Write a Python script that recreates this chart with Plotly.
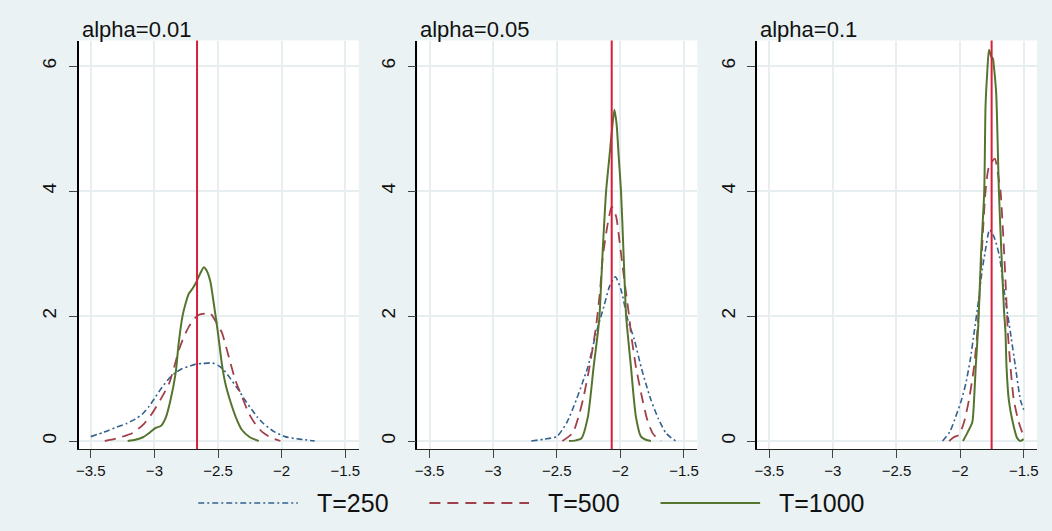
import plotly.graph_objects as go

W, H = 1052, 531

# ---------------- data ----------------
panel_titles = ["alpha=0.01", "alpha=0.05", "alpha=0.1"]
series_names = ["T=250", "T=500", "T=1000"]
crit_values = [-2.665, -2.068, -1.752]
x_ticks = [-3.5, -3, -2.5, -2, -1.5]
x_tick_text = ["\u22123.5", "\u22123", "\u22122.5", "\u22122", "\u22121.5"]
y_ticks = [0, 2, 4, 6]

# panel 1 (alpha=0.01)
p1_t250_x = [-3.50, -3.40, -3.30, -3.22, -3.15, -3.09, -3.04, -2.99, -2.94, -2.885, -2.83, -2.78, -2.72,
             -2.677, -2.62, -2.547, -2.50, -2.456, -2.40, -2.34, -2.29, -2.234, -2.19, -2.143, -2.06,
             -1.974, -1.90, -1.82, -1.74]
p1_t250_y = [0.07, 0.14, 0.22, 0.28, 0.35, 0.44, 0.56, 0.71, 0.86, 1.00, 1.10, 1.16, 1.20,
             1.23, 1.24, 1.25, 1.21, 1.14, 0.99, 0.82, 0.66, 0.50, 0.38, 0.28, 0.15,
             0.07, 0.04, 0.02, 0.00]
p1_t500_x = [-3.39, -3.30, -3.17, -3.08, -3.016, -2.95, -2.885, -2.845, -2.807, -2.77, -2.729, -2.69,
             -2.65, -2.60, -2.56, -2.52, -2.469, -2.42, -2.365, -2.31, -2.26, -2.21, -2.156, -2.08, -2.01]
p1_t500_y = [0.00, 0.04, 0.13, 0.28, 0.45, 0.67, 0.92, 1.18, 1.46, 1.66, 1.83, 1.95,
             2.02, 2.04, 2.04, 1.92, 1.73, 1.38, 0.98, 0.70, 0.45, 0.28, 0.15, 0.05, 0.00]
p1_t1000_x = [-3.21, -3.15, -3.09, -3.04, -2.99, -2.95, -2.91, -2.873, -2.833, -2.81, -2.78, -2.755,
              -2.729, -2.70, -2.677, -2.64, -2.612, -2.59, -2.56, -2.53, -2.50, -2.469, -2.44, -2.404,
              -2.36, -2.313, -2.25, -2.18]
p1_t1000_y = [0.00, 0.02, 0.06, 0.13, 0.21, 0.24, 0.38, 0.66, 1.09, 1.55, 1.99, 2.20,
              2.36, 2.44, 2.52, 2.68, 2.78, 2.73, 2.55, 2.15, 1.72, 1.22, 0.90, 0.64,
              0.38, 0.18, 0.06, 0.00]

# panel 2 (alpha=0.05)
p2_t250_x = [-2.70, -2.60, -2.50, -2.42, -2.346, -2.30, -2.255, -2.19, -2.13, -2.086, -2.04, -1.995,
             -1.943, -1.89, -1.838, -1.80, -1.76, -1.70, -1.643, -1.60, -1.565]
p2_t250_y = [0.00, 0.03, 0.07, 0.30, 0.66, 0.92, 1.19, 1.73, 2.15, 2.47, 2.63, 2.42,
             1.95, 1.62, 1.19, 0.92, 0.66, 0.35, 0.13, 0.05, 0.00]
p2_t500_x = [-2.456, -2.42, -2.373, -2.33, -2.294, -2.242, -2.19, -2.16, -2.138, -2.099, -2.068, -2.033,
             -2.008, -1.982, -1.955, -1.93, -1.917, -1.878, -1.826, -1.79, -1.748, -1.70, -1.68]
p2_t500_y = [0.00, 0.05, 0.13, 0.38, 0.66, 1.19, 1.85, 2.40, 2.95, 3.48, 3.75, 3.59,
             3.22, 2.79, 2.36, 1.98, 1.73, 1.19, 0.66, 0.35, 0.13, 0.02, 0.00]
p2_t1000_x = [-2.404, -2.35, -2.307, -2.255, -2.21, -2.177, -2.164, -2.14, -2.112, -2.086, -2.066,
              -2.047, -2.03, -2.013, -1.995, -1.975, -1.955, -1.943, -1.917, -1.878, -1.838, -1.80, -1.76]
p2_t1000_y = [0.00, 0.01, 0.04, 0.39, 1.19, 1.73, 2.00, 3.00, 4.00, 4.55, 4.98,
              5.30, 5.08, 4.55, 4.00, 3.00, 2.00, 1.73, 1.19, 0.39, 0.07, 0.02, 0.00]

# panel 3 (alpha=0.1)
p3_t250_x = [-2.138, -2.08, -2.034, -1.99, -1.955, -1.92, -1.89, -1.855, -1.826, -1.805, -1.768, -1.73,
             -1.69, -1.65, -1.604, -1.565, -1.526, -1.50]
p3_t250_y = [0.00, 0.15, 0.39, 0.65, 0.92, 1.30, 1.73, 2.25, 2.74, 3.00, 3.38, 3.25,
             2.95, 2.35, 1.73, 1.19, 0.66, 0.50]
p3_t500_x = [-2.086, -2.05, -2.008, -1.969, -1.93, -1.89, -1.865, -1.838, -1.80, -1.773, -1.727, -1.695,
             -1.682, -1.656, -1.638, -1.625, -1.604, -1.578, -1.539, -1.50]
p3_t500_y = [0.00, 0.06, 0.10, 0.30, 0.66, 1.19, 1.73, 2.68, 4.00, 4.39, 4.52, 4.18,
             4.00, 3.10, 2.35, 1.75, 1.19, 0.66, 0.30, 0.07]
p3_t1000_x = [-1.977, -1.943, -1.904, -1.89, -1.877, -1.857, -1.835, -1.81, -1.80, -1.787, -1.773, -1.755,
              -1.742, -1.734, -1.716, -1.705, -1.695, -1.675, -1.655, -1.643, -1.635, -1.617, -1.586,
              -1.552, -1.526, -1.50]
p3_t1000_y = [0.00, 0.13, 0.30, 0.66, 1.19, 1.85, 3.00, 4.00, 5.35, 5.88, 6.26, 6.15,
              6.12, 5.99, 5.56, 4.80, 4.00, 3.00, 2.10, 1.73, 1.19, 0.66, 0.30,
              0.05, 0.00, 0.03]

panels = [
    [(p1_t250_x, p1_t250_y), (p1_t500_x, p1_t500_y), (p1_t1000_x, p1_t1000_y)],
    [(p2_t250_x, p2_t250_y), (p2_t500_x, p2_t500_y), (p2_t1000_x, p2_t1000_y)],
    [(p3_t250_x, p3_t250_y), (p3_t500_x, p3_t500_y), (p3_t1000_x, p3_t1000_y)],
]

# ---------------- style ----------------
BG = "#EAF2F3"
GRID = "#E6EEF0"
series_colors = ["#33628F", "#A0404A", "#55752F"]
series_dash = ["6px,3px,2px,3px", "11px,7px", "solid"]
series_width = [1.6, 1.8, 2.0]
CRIT_COLOR = "#D81E3C"
FONT = "Liberation Sans, Arial, sans-serif"

x_px = [(76, 357), (416, 697), (757, 1038)]
y_px = (40.5, 449)
x_range = [-3.595, -1.395]
y_range = [-0.128, 6.41]

fig = go.Figure()

for i, curves in enumerate(panels):
    ax = "" if i == 0 else str(i + 1)
    for j, (xs, ys) in enumerate(curves):
        fig.add_trace(go.Scatter(
            x=xs, y=ys, mode="lines", name=series_names[j], showlegend=False,
            line=dict(color=series_colors[j], width=series_width[j], dash=series_dash[j], shape="spline",
                      smoothing=0.6),
            xaxis="x" + ax, yaxis="y" + ax, hoverinfo="skip"))
    fig.add_shape(type="line", xref="x" + ax, yref="y" + ax + " domain",
                  x0=crit_values[i], x1=crit_values[i], y0=0, y1=1,
                  line=dict(color=CRIT_COLOR, width=2), layer="above")
    fig.add_annotation(text=panel_titles[i], xref="paper", yref="paper",
                       x=(x_px[i][0] + 1) / W, y=1 - 29 / H, xanchor="left", yanchor="middle",
                       showarrow=False, font=dict(family=FONT, size=22, color="#111"))

layout_axes = {}
for i in range(3):
    sx = "xaxis" if i == 0 else f"xaxis{i+1}"
    sy = "yaxis" if i == 0 else f"yaxis{i+1}"
    ax = "" if i == 0 else str(i + 1)
    layout_axes[sx] = dict(
        domain=[x_px[i][0] / W, x_px[i][1] / W], range=x_range, anchor="y" + ax,
        tickvals=x_ticks, ticktext=x_tick_text, ticks="outside", ticklen=8, tickwidth=1.2,
        tickcolor="#444", showline=True, linecolor="#222", linewidth=1.3,
        showgrid=True, gridcolor=GRID, gridwidth=2, zeroline=False,
        tickfont=dict(family=FONT, size=15, color="#111"), fixedrange=True)
    layout_axes[sy] = dict(
        domain=[1 - y_px[1] / H, 1 - y_px[0] / H], range=y_range, anchor="x" + ax,
        tickvals=y_ticks, ticks="outside", ticklen=8, tickwidth=1.2, tickcolor="#444",
        tickangle=-90, showline=True, linecolor="#000", linewidth=1.5,
        showgrid=True, gridcolor=GRID, gridwidth=2, zeroline=False,
        tickfont=dict(family=FONT, size=19, color="#111"), ticklabelstandoff=5, fixedrange=True)

fig.update_layout(
    width=W, height=H, margin=dict(l=0, r=0, t=0, b=0),
    paper_bgcolor=BG, plot_bgcolor="white", showlegend=False, **layout_axes)

# legend (drawn as keys + labels below the panels)
leg_y = 1 - 503 / H
leg_keys = [(196, 296, 313), (428, 528, 545), (660, 760, 777)]
for j, name in enumerate(series_names):
    x0, x1, xt = leg_keys[j]
    fig.add_shape(type="line", xref="paper", yref="paper", x0=x0 / W, x1=x1 / W, y0=leg_y, y1=leg_y,
                  line=dict(color=series_colors[j], width=series_width[j], dash=series_dash[j]))
    fig.add_annotation(text=name, xref="paper", yref="paper", x=xt / W, y=leg_y,
                       xanchor="left", yanchor="middle", showarrow=False,
                       font=dict(family=FONT, size=25, color="#111"))

fig.write_html("out.html", config={"displayModeBar": False},
               post_script="document.body.style.margin='0';document.body.style.padding='0';"
                           "document.body.style.overflow='hidden';")
